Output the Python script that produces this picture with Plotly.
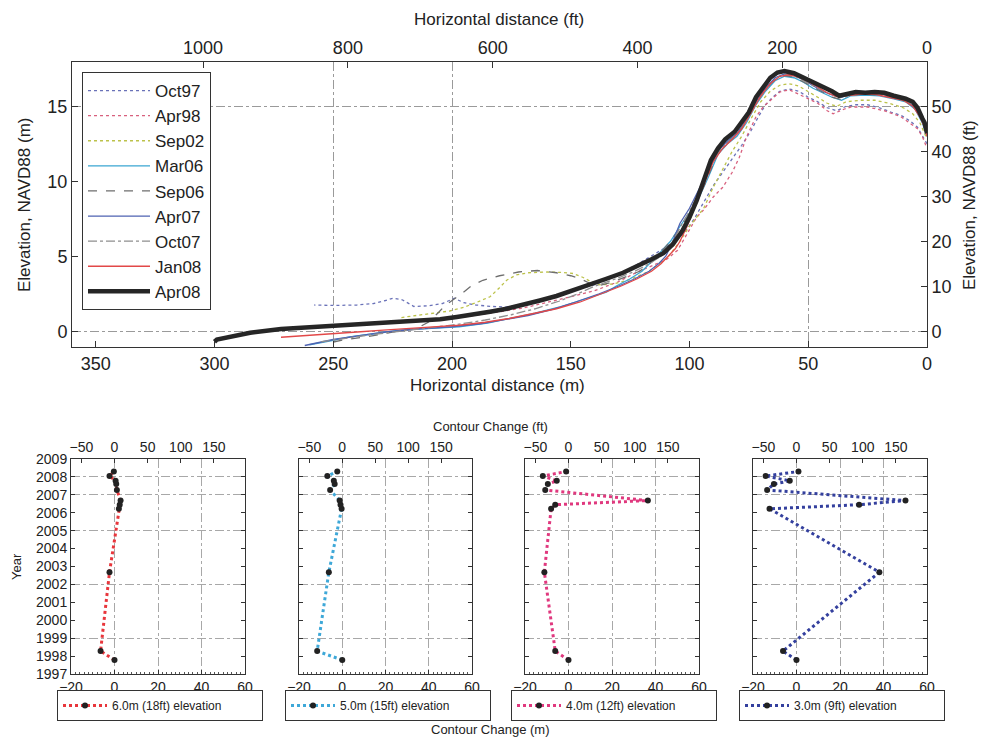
import plotly.graph_objects as go

W, H = 983, 737
FONT = "Liberation Sans, Arial, sans-serif"
FT = 3.28084

# ---------------- beach / dune profiles (distance m, elevation m NAVD88) ----------------
oct97_d = [0, 2, 4, 7, 11, 15, 20, 25, 30, 34, 38, 42, 46, 50, 54, 58, 62, 65, 68, 71, 74, 78, 82, 86, 90, 94, 98, 102, 106, 111, 116, 121, 126, 132, 140, 148, 154, 160, 166, 171, 177, 183, 190, 195, 199, 204, 210, 216, 221, 225, 228, 233, 240, 250, 258]
oct97_e = [12.5, 13.1, 13.6, 14.0, 14.4, 14.6, 14.9, 15.1, 15.1, 15.0, 14.7, 14.9, 15.3, 15.6, 16.0, 16.15, 16.0, 15.6, 15.1, 14.3, 13.4, 12.4, 11.5, 10.6, 9.7, 8.6, 7.5, 6.6, 6.0, 5.5, 5.0, 4.55, 4.1, 3.6, 3.1, 2.75, 2.5, 2.25, 1.95, 1.75, 1.62, 1.65, 1.75, 1.9, 2.2, 1.85, 1.7, 1.65, 2.1, 2.2, 2.05, 1.85, 1.75, 1.72, 1.75]

apr98_d = [0.5, 2, 4, 7, 11, 18, 25, 32, 35, 39.5, 42, 46, 50, 54, 58, 62, 66, 69, 72, 76, 79, 82, 86, 90, 94, 97, 101, 105, 110, 115, 122, 130, 140, 150, 160, 170, 180, 190, 200, 210, 220, 230, 240, 250]
apr98_e = [12.4, 13.0, 13.5, 13.85, 14.3, 14.7, 14.95, 14.95, 14.8, 14.5, 14.7, 15.2, 15.5, 15.85, 16.1, 15.95, 15.4, 14.95, 14.3, 12.95, 11.6, 10.6, 9.6, 8.95, 8.1, 7.6, 6.5, 5.4, 4.75, 4.4, 3.95, 3.3, 2.7, 2.3, 1.9, 1.55, 1.3, 1.05, 0.85, 0.75, 0.65, 0.55, 0.45, 0.3]

sep02_d = [0.5, 3, 6, 10, 16, 22, 28, 34, 38, 42, 46, 50, 54, 58, 62, 66, 70, 74, 78, 82, 86, 90, 94, 100, 104, 109, 117, 125, 132, 138, 142, 145, 149, 154, 160, 168, 173, 177, 180, 184, 190, 195, 201, 208, 215, 222]
sep02_e = [13.0, 13.9, 14.5, 14.9, 15.2, 15.4, 15.4, 15.3, 15.0, 15.2, 15.6, 16.0, 16.35, 16.5, 16.4, 16.0, 15.3, 14.2, 13.0, 12.0, 10.8, 9.6, 8.2, 7.0, 6.0, 4.95, 4.0, 3.45, 3.15, 3.1, 3.35, 3.6, 3.85, 3.92, 3.95, 3.9, 3.75, 3.4, 2.9, 2.3, 1.9, 1.6, 1.35, 1.2, 1.05, 0.9]

mar06_d = [0, 2, 5, 9, 14, 20, 26, 32, 36, 40, 44, 48, 52, 56, 60, 64, 68, 72, 76, 80, 84, 88, 92, 96, 100, 104, 108, 112, 115, 120, 125, 131, 135, 145, 155, 165, 175, 185, 197, 210, 222, 232, 243, 250, 260]
mar06_e = [13.0, 13.9, 14.8, 15.3, 15.5, 15.7, 15.75, 15.7, 15.4, 15.6, 15.9, 16.2, 16.6, 16.9, 17.0, 16.7, 16.0, 15.1, 13.9, 13.0, 12.5, 11.8, 10.3, 8.9, 7.9, 7.0, 6.0, 5.3, 4.8, 4.0, 3.5, 3.0, 2.6, 2.1, 1.6, 1.2, 0.85, 0.55, 0.3, 0.2, 0.07, -0.15, -0.38, -0.6, -0.9]

sep06_d = [0, 2, 5, 9, 14, 20, 26, 32, 36, 40, 44, 48, 52, 56, 60, 64, 68, 72, 76, 80, 84, 88, 92, 96, 100, 104, 108, 112, 116, 121, 126, 132, 138, 142, 146, 150, 156, 164, 172, 180, 187, 192, 196, 200, 203, 206, 210, 215, 225, 236, 245, 253]
sep06_e = [13.1, 14.0, 14.9, 15.35, 15.55, 15.75, 15.8, 15.75, 15.45, 15.6, 15.95, 16.3, 16.65, 16.95, 17.05, 16.8, 16.1, 15.2, 14.0, 13.1, 12.6, 11.9, 10.4, 8.9, 7.8, 6.9, 6.0, 5.3, 4.6, 4.0, 3.7, 3.3, 3.05, 3.2, 3.5, 3.7, 3.9, 4.05, 3.95, 3.7, 3.4, 3.0, 2.5, 2.07, 1.7, 1.2, 0.6, 0.18, -0.05, -0.38, -0.55, -0.82]

apr07_d = [0, 2, 5, 9, 14, 20, 26, 32, 36, 40, 44, 48, 52, 56, 60, 64, 68, 72, 76, 80, 84, 88, 92, 96, 100, 104, 107, 110, 113, 117, 123, 130, 138, 148, 158, 168, 178, 188, 200, 215, 228, 240, 250, 262]
apr07_e = [13.1, 14.0, 14.9, 15.4, 15.65, 15.85, 15.9, 15.85, 15.6, 15.75, 16.0, 16.4, 16.75, 17.05, 17.15, 16.9, 16.2, 15.3, 14.1, 13.2, 12.7, 12.0, 10.7, 9.4, 8.2, 7.2, 6.0, 5.0, 4.5, 4.0, 3.5, 3.0, 2.5, 1.95, 1.45, 1.05, 0.75, 0.5, 0.3, 0.15, -0.05, -0.3, -0.55, -0.95]

oct07_d = [0, 1.5, 4, 8, 13, 19, 25, 31, 35, 39, 43, 47, 51, 55, 59, 63, 67, 71, 75, 79, 83, 87, 91, 95, 99, 103, 107, 112, 117, 123, 131, 140, 147, 155, 165, 175, 186, 198, 210, 222, 235, 245, 255]
oct07_e = [13.0, 13.8, 14.7, 15.3, 15.6, 15.8, 15.85, 15.8, 15.6, 15.7, 15.95, 16.3, 16.65, 16.95, 17.1, 16.95, 16.3, 15.4, 14.3, 13.3, 12.7, 12.1, 11.0, 9.6, 8.3, 7.2, 6.0, 5.0, 4.5, 4.0, 3.5, 3.0, 2.5, 2.0, 1.5, 1.1, 0.75, 0.45, 0.25, 0.0, -0.25, -0.45, -0.7]

jan08_d = [0, 1, 3, 6, 10, 16, 22, 28, 34, 38, 42, 46, 50, 54, 58, 62, 66, 70, 74, 78, 82, 86, 90, 94, 98, 101, 104, 106, 109, 112, 116, 122, 129, 137, 146, 156, 166, 176, 186, 197, 208, 218, 229, 240, 250, 262, 272]
jan08_e = [13.0, 13.6, 14.3, 15.0, 15.4, 15.6, 15.8, 15.8, 15.7, 15.65, 15.9, 16.3, 16.65, 16.95, 17.1, 17.0, 16.5, 15.7, 14.6, 13.5, 12.8, 12.2, 11.3, 9.8, 8.2, 7.0, 6.0, 5.5, 5.0, 4.5, 4.0, 3.5, 3.0, 2.5, 1.95, 1.5, 1.15, 0.85, 0.6, 0.4, 0.29, 0.2, 0.07, -0.05, -0.15, -0.25, -0.4]

apr08_d = [0, 1, 2, 4, 6, 9, 14, 18, 22, 26, 30, 34, 37, 40, 44, 48, 52, 56, 60, 63, 66, 69, 72, 75, 78, 81, 85, 88, 91, 94, 97, 100, 103, 107, 111, 116, 121, 128, 135, 142, 149, 156, 163, 170, 177, 184, 191, 198, 205, 215, 229, 240, 250, 262, 272, 285, 295, 299, 300]
apr08_e = [13.2, 13.9, 14.2, 14.9, 15.3, 15.5, 15.7, 15.9, 15.95, 15.9, 15.95, 15.85, 15.7, 16.0, 16.3, 16.6, 16.95, 17.2, 17.35, 17.25, 16.9, 16.3, 15.6, 14.6, 13.9, 13.3, 12.8, 12.2, 11.4, 10.0, 8.7, 7.6, 6.7, 5.8, 5.2, 4.8, 4.4, 3.9, 3.5, 3.1, 2.7, 2.35, 2.05, 1.75, 1.5, 1.3, 1.1, 0.95, 0.8, 0.7, 0.6, 0.45, 0.35, 0.25, 0.15, -0.1, -0.4, -0.55, -0.7]

profile_names = ["Oct97", "Apr98", "Sep02", "Mar06", "Sep06", "Apr07", "Oct07", "Jan08", "Apr08"]
profile_data = [(oct97_d, oct97_e), (apr98_d, apr98_e), (sep02_d, sep02_e), (mar06_d, mar06_e),
                (sep06_d, sep06_e), (apr07_d, apr07_e), (oct07_d, oct07_e), (jan08_d, jan08_e),
                (apr08_d, apr08_e)]
profile_styles = [
    dict(color="#6a72b8", width=1.3, dash="dot"),
    dict(color="#d8607e", width=1.3, dash="dot"),
    dict(color="#bcc24a", width=1.3, dash="dot"),
    dict(color="#3aa6d2", width=1.3, dash="solid"),
    dict(color="#6e6e6e", width=1.3, dash="dash"),
    dict(color="#4e62b2", width=1.3, dash="solid"),
    dict(color="#8e8e8e", width=1.3, dash="dashdot"),
    dict(color="#e24848", width=1.3, dash="solid"),
    dict(color="#262626", width=4.5, dash="solid"),
]

# ---------------- contour change time series ----------------
survey_year = [1997.78, 1998.28, 2002.68, 2006.22, 2006.45, 2006.68, 2007.27, 2007.6, 2007.78, 2008.05, 2008.3]
change_6m = [0, -6.4, -2.3, 2.0, 2.4, 2.8, 1.1, 0.8, 0.5, -2.3, -0.3]
change_5m = [0, -11.6, -6.2, -0.3, -0.8, -1.2, -5.6, -3.5, -3.9, -6.9, -2.3]
change_4m = [0, -6.1, -11.1, -8.0, -6.1, 36.5, -10.7, -9.5, -5.4, -11.8, -1.1]
change_3m = [0, -6.2, 38.1, -12.4, 28.8, 50.1, -13.5, -10.4, -3.1, -14.2, 0.9]
contour_labels = ["6.0m (18ft) elevation", "5.0m (15ft) elevation", "4.0m (12ft) elevation", "3.0m (9ft) elevation"]
contour_changes = [change_6m, change_5m, change_4m, change_3m]
contour_colors = ["#e8363c", "#3ea8d8", "#e0387e", "#34409e"]

# top chart ticks
dist_m_ticks = [0, 50, 100, 150, 200, 250, 300, 350]
dist_ft_ticks = [0, 200, 400, 600, 800, 1000]
elev_m_ticks = [0, 5, 10, 15]
elev_ft_ticks = [0, 10, 20, 30, 40, 50]
# panel ticks
chg_m_ticks = [-20, 0, 20, 40, 60]
chg_ft_ticks = [-50, 0, 50, 100, 150]
year_ticks = list(range(1997, 2010))


def px_x(p):
    return p / W


def px_y(p):
    return 1 - p / H


fig = go.Figure()

for name, (d, e), st in zip(profile_names, profile_data, profile_styles):
    fig.add_trace(go.Scatter(x=d, y=e, mode="lines", name=name, line=st,
                             xaxis="x", yaxis="y", legend="legend"))
# carriers for the secondary (feet) axes of the profile chart
fig.add_trace(go.Scatter(x=[None], y=[None], xaxis="x2", yaxis="y", showlegend=False, hoverinfo="skip"))
fig.add_trace(go.Scatter(x=[None], y=[None], xaxis="x", yaxis="y2", showlegend=False, hoverinfo="skip"))

axis_common = dict(showline=True, linecolor="#333", linewidth=1, ticks="inside",
                   tickcolor="#333", zeroline=False, showgrid=False, automargin=False,
                   tickfont=dict(family=FONT, size=18, color="#222"))
grid_minor = dict(showgrid=True, gridcolor="#9a9a9a", gridwidth=1, griddash="dashdot", ticklen=0)

top_dom_x = [px_x(72), px_x(927)]
top_dom_y = [px_y(347), px_y(62)]

layout = dict(
    width=W, height=H, margin=dict(l=0, r=0, t=0, b=0, autoexpand=False),
    paper_bgcolor="white", plot_bgcolor="white",
    font=dict(family=FONT, color="#222"),
    showlegend=True,
    xaxis=dict(axis_common, domain=top_dom_x, range=[360, 0], anchor="y",
               tickmode="array", tickvals=dist_m_ticks, ticklen=6,
               minor=dict(grid_minor, tickmode="array", tickvals=[50, 200, 250])),
    yaxis=dict(axis_common, domain=top_dom_y, range=[-1.05, 17.95], anchor="x",
               tickmode="array", tickvals=elev_m_ticks, ticklen=6,
               minor=dict(grid_minor, tickmode="array", tickvals=[0, 15])),
    xaxis2=dict(axis_common, overlaying="x", anchor="y", side="top",
                range=[360 * FT, 0], tickmode="array", tickvals=dist_ft_ticks, ticklen=6),
    yaxis2=dict(axis_common, overlaying="y", anchor="x", side="right",
                range=[-3.4, 59.9], tickmode="array", tickvals=elev_ft_ticks, ticklen=6),
    legend=dict(x=px_x(82), y=px_y(72), xanchor="left", yanchor="top",
                bgcolor="white", bordercolor="#333", borderwidth=1,
                font=dict(family=FONT, size=17, color="#222"), tracegroupgap=0,
                itemwidth=62),
)

panel_x = [(71, 245), (299, 472), (525, 699), (753, 927)]
panel_dom_y = [px_y(674), px_y(459)]
small_font = dict(family=FONT, size=14, color="#222")

for k in range(4):
    xm = 3 + 2 * k
    xf = xm + 1
    yk = 3 + k
    x0, x1 = panel_x[k]
    layout[f"xaxis{xm}"] = dict(
        showline=True, linecolor="#333", linewidth=1, ticks="inside", ticklen=4,
        tickcolor="#333", zeroline=False, domain=[px_x(x0), px_x(x1)], anchor=f"y{yk}",
        range=[-20, 60], tickmode="array", tickvals=chg_m_ticks, tickfont=small_font,
        showgrid=True, gridcolor="#a8a8a8", gridwidth=1, griddash="dashdot", automargin=False,
        minor=dict(ticks="inside", ticklen=2, dtick=2, tickcolor="#555"))
    layout[f"xaxis{xf}"] = dict(
        showline=True, linecolor="#333", linewidth=1, ticks="inside", ticklen=4,
        tickcolor="#333", zeroline=False, showgrid=False, overlaying=f"x{xm}",
        anchor=f"y{yk}", side="top", range=[-20 * FT, 60 * FT], automargin=False,
        tickmode="array", tickvals=chg_ft_ticks, tickfont=small_font)
    layout[f"yaxis{yk}"] = dict(
        showline=True, linecolor="#333", linewidth=1, mirror="ticks", ticks="inside",
        ticklen=4, tickcolor="#333", zeroline=False, showgrid=False, automargin=False,
        domain=panel_dom_y, anchor=f"x{xm}", range=[1997, 2009],
        tickmode="array", tickvals=year_ticks, showticklabels=(k == 0),
        tickfont=small_font,
        minor=dict(grid_minor, gridcolor="#a8a8a8", tickmode="array",
                   tickvals=[1999, 2002, 2005, 2007, 2008]))
    leg = f"legend{k + 2}"
    layout[leg] = dict(x=px_x(x0 - 14), y=px_y(690), xanchor="left", yanchor="top",
                       orientation="h", bgcolor="white", bordercolor="#333", borderwidth=1,
                       font=dict(family=FONT, size=12, color="#222"),
                       entrywidth=145, entrywidthmode="pixels", itemwidth=44)
    fig.add_trace(go.Scatter(
        x=contour_changes[k], y=survey_year, mode="lines+markers", name=contour_labels[k],
        line=dict(color=contour_colors[k], width=3, dash="dot"),
        marker=dict(color="#222", size=6), xaxis=f"x{xm}", yaxis=f"y{yk}", legend=leg))
    fig.add_trace(go.Scatter(x=[None], y=[None], xaxis=f"x{xf}", yaxis=f"y{yk}",
                             showlegend=False, hoverinfo="skip"))

title_font = dict(family=FONT, size=17, color="#222")
panel_title_font = dict(family=FONT, size=13, color="#222")
layout["annotations"] = [
    dict(text="Horizontal distance (ft)", x=px_x(499), y=px_y(20), xref="paper", yref="paper",
         showarrow=False, font=title_font, xanchor="center", yanchor="middle"),
    dict(text="Horizontal distance (m)", x=px_x(497), y=px_y(386), xref="paper", yref="paper",
         showarrow=False, font=title_font, xanchor="center", yanchor="middle"),
    dict(text="Elevation, NAVD88 (m)", x=px_x(25), y=px_y(205), xref="paper", yref="paper",
         showarrow=False, font=title_font, textangle=-90, xanchor="center", yanchor="middle"),
    dict(text="Elevation, NAVD88 (ft)", x=px_x(970), y=px_y(205), xref="paper", yref="paper",
         showarrow=False, font=title_font, textangle=-90, xanchor="center", yanchor="middle"),
    dict(text="Contour Change (ft)", x=px_x(490), y=px_y(426), xref="paper", yref="paper",
         showarrow=False, font=panel_title_font, xanchor="center", yanchor="middle"),
    dict(text="Contour Change (m)", x=px_x(490), y=px_y(729), xref="paper", yref="paper",
         showarrow=False, font=panel_title_font, xanchor="center", yanchor="middle"),
    dict(text="Year", x=px_x(16), y=px_y(567), xref="paper", yref="paper",
         showarrow=False, font=panel_title_font, textangle=-90, xanchor="center", yanchor="middle"),
]

fig.update_layout(layout)
fig.write_html("out.html")
